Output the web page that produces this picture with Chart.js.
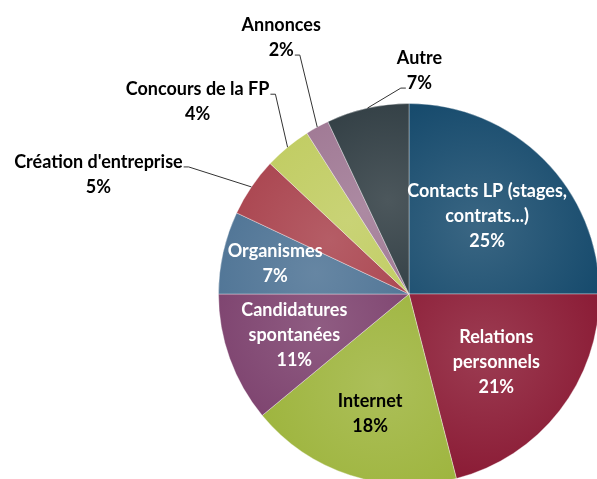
<!DOCTYPE html>
<html>
<head>
<meta charset="utf-8">
<script src="https://cdn.jsdelivr.net/npm/chart.js@4.4.0/dist/chart.umd.min.js"></script>
<style>
    html, body { margin: 0; padding: 0; background: #fff; overflow: hidden; }
    #wrap { position: relative; width: 610px; height: 490px; }
</style>
</head>
<body>
<div id="wrap"><canvas id="myPieChart"></canvas></div>
<script>
// data
const categories = ['Contacts LP (stages, contrats...)', 'Relations personnels', 'Internet',
    'Candidatures spontanées', 'Organismes', "Création d'entreprise", 'Concours de la FP', 'Annonces', 'Autre'];
const labelLines = [['Contacts LP (stages,', 'contrats...)'], ['Relations', 'personnels'], ['Internet'],
    ['Candidatures', 'spontanées'], ['Organismes'], ["Création d'entreprise"], ['Concours de la FP'], ['Annonces'], ['Autre']];
const shares = [25, 21, 18, 11, 7, 5, 4, 2, 7];

const sliceColors = ['#174b6d', '#8a1a34', '#9db43c', '#7b3f6c', '#4b7193', '#a8404b', '#bfcb5e', '#9d7591', '#2c393f'];

// where each label goes: inside at a fraction of the radius, or outside with a leader line
const labelLayout = [
    { inside: true, r: 0.58, color: '#fff' },
    { inside: true, r: 0.58, color: '#fff' },
    { inside: true, r: 0.66, color: '#000' },
    { inside: true, r: 0.64, color: '#fff' },
    { inside: true, r: 0.72, color: '#fff' },
    { inside: false, dx: -153, dy: -25, row: 0, side: 'right' },
    { inside: false, dx: -90, dy: -58, row: 0, side: 'right' },
    { inside: false, dx: -36, dy: -102, row: 1, side: 'right' },
    { inside: false, dx: 52, dy: -50, row: 1, side: 'left' },
];
const lineH = 25;

function lighten(hex, t) {
    const n = parseInt(hex.slice(1), 16);
    const r = n >> 16, g = (n >> 8) & 255, b = n & 255;
    const f = v => Math.round(v + (255 - v) * t);
    return 'rgb(' + f(r) + ',' + f(g) + ',' + f(b) + ')';
}

function sliceFill(context) {
    const i = context.dataIndex;
    const chart = context.chart;
    const area = chart.chartArea;
    if (context.type !== 'data' || !area) return sliceColors[i] || '#888';
    const base = sliceColors[i];
    const cx = (area.left + area.right) / 2;
    const cy = (area.top + area.bottom) / 2;
    const r = Math.min(area.width, area.height) / 2;
    const total = shares.reduce((a, b) => a + b, 0);
    let before = 0;
    for (let k = 0; k < i; k++) before += shares[k];
    const mid = -Math.PI / 2 + (before + shares[i] / 2) / total * 2 * Math.PI;
    const gx = cx + Math.cos(mid) * r * 0.5;
    const gy = cy + Math.sin(mid) * r * 0.5;
    const grad = chart.ctx.createRadialGradient(gx, gy, 0, gx, gy, r * 0.7);
    grad.addColorStop(0, lighten(base, 0.15));
    grad.addColorStop(1, base);
    return grad;
}

const sliceLabels = {
    id: 'sliceLabels',
    afterDatasetsDraw(chart) {
        const c = chart.ctx;
        const meta = chart.getDatasetMeta(0);
        c.save();
        c.font = 'bold 18px Lato';
        c.textAlign = 'center';
        c.textBaseline = 'middle';
        meta.data.forEach((arc, i) => {
            const p = arc.getProps(['x', 'y', 'startAngle', 'endAngle', 'outerRadius'], true);
            const mid = (p.startAngle + p.endAngle) / 2;
            const lay = labelLayout[i];
            const lines = labelLines[i].concat([shares[i] + '%']);
            if (lay.inside) {
                const d = p.outerRadius * lay.r;
                const tx = p.x + Math.cos(mid) * d;
                const ty = p.y + Math.sin(mid) * d;
                const top = ty - (lines.length - 1) * lineH / 2;
                c.fillStyle = lay.color;
                lines.forEach((s, k) => c.fillText(s, tx, top + k * lineH));
            } else {
                const ex = p.x + Math.cos(mid) * p.outerRadius;
                const ey = p.y + Math.sin(mid) * p.outerRadius;
                const tx = ex + lay.dx;
                const ty = ey + lay.dy;
                c.fillStyle = '#000';
                lines.forEach((s, k) => c.fillText(s, tx, ty + k * lineH));
                const w = c.measureText(lines[lay.row]).width;
                const ly = ty + lay.row * lineH + 5;
                const lx = lay.side === 'right' ? tx + w / 2 + 1 : tx - w / 2 - 1;
                const kx = lay.side === 'right' ? lx + 5 : lx - 5;
                c.strokeStyle = '#333';
                c.lineWidth = 1;
                c.beginPath();
                c.moveTo(lx, ly);
                c.lineTo(kx, ly);
                c.lineTo(ex, ey);
                c.stroke();
            }
        });
        c.restore();
    }
};

const pie = document.getElementById('myPieChart');
const myPieChart = new Chart(pie, {
    type: 'pie',
    data: {
        labels: categories,
        datasets: [{
            data: shares,
            backgroundColor: sliceFill,
            borderColor: 'rgba(255, 255, 255, 0.35)',
            borderWidth: 1
        }]
    },
    options: {
        responsive: true,
        maintainAspectRatio: false,
        animation: false,
        layout: {
            padding: { left: 218, right: 10, top: 103, bottom: 5 }
        },
        plugins: {
            legend: { display: false },
            tooltip: { enabled: false }
        }
    },
    plugins: [sliceLabels]
});
</script>
</body>
</html>
